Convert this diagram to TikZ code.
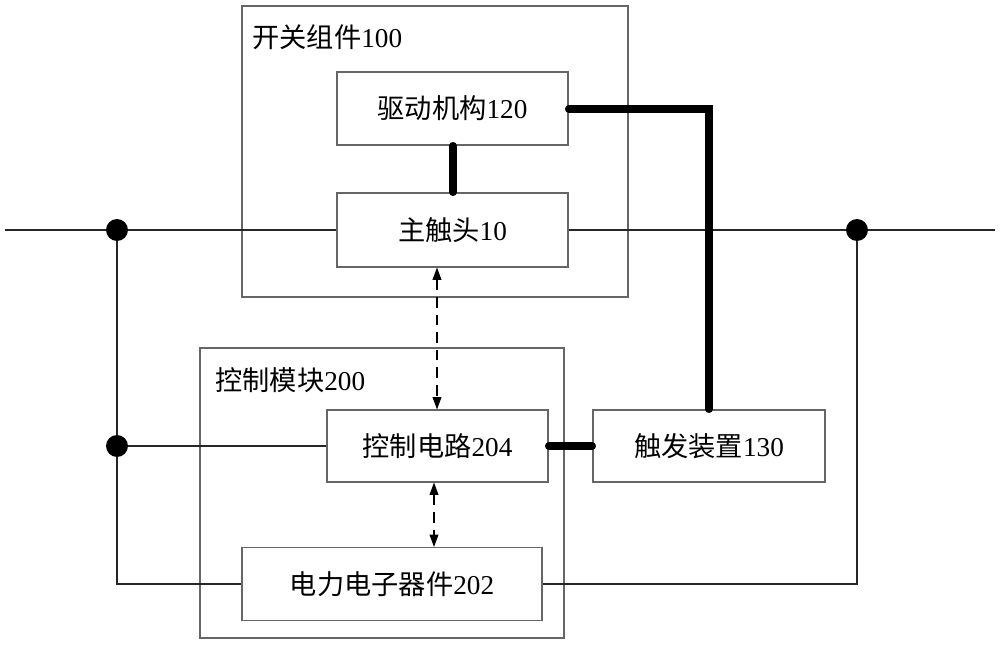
\documentclass[tikz,border=0pt]{standalone}
\usepackage{fontspec}
\setmainfont{Liberation Serif}
\newfontfamily\cjk{Noto Sans CJK SC}
\usetikzlibrary{arrows.meta}
\begin{document}
\begin{tikzpicture}[x=0.02cm,y=-0.02cm,
  blk/.style={draw=black!60,line width=0.6pt,fill=white,inner sep=0pt,font=\fontsize{15.5}{17}\selectfont},
  grp/.style={draw=black!60,line width=0.6pt},
  wire/.style={draw=black!85,line width=0.6pt},
  thick link/.style={line width=4pt,line cap=round},
  dashar/.style={line width=0.6pt,dash pattern=on 6pt off 4pt,{Triangle[width=5pt,length=7pt]}-{Triangle[width=5pt,length=7pt]}},
  dot/.style={circle,fill=black,inner sep=0pt,minimum size=12.5pt},
  lbl/.style={font=\fontsize{15.5}{17}\selectfont,anchor=west,inner sep=0pt}]
\useasboundingbox (0,0) rectangle (1000,646);
% group boxes
\draw[grp] (242,6) rectangle (628,297);
\node[lbl] (g1) at (252,37) {{\cjk 开关组件}100};
\draw[grp] (200,348) rectangle (564,638);
\node[lbl] (g2) at (215,380) {{\cjk 控制模块}200};
% main line
\coordinate (L) at (5,230);
\coordinate (R) at (995,230);
\node[blk,minimum width=231*0.02cm,minimum height=73*0.02cm] (drv) at (452.5,108.5) {{\cjk 驱动机构}120};
\node[blk,minimum width=231*0.02cm,minimum height=74*0.02cm] (mc) at (452.5,230) {{\cjk 主触头}10};
\node[blk,minimum width=221*0.02cm,minimum height=72*0.02cm] (cc) at (437.5,446) {{\cjk 控制电路}204};
\node[blk,minimum width=232*0.02cm,minimum height=72*0.02cm] (tr) at (709,446) {{\cjk 触发装置}130};
\node[blk,minimum width=300*0.02cm,minimum height=73*0.02cm] (pe) at (392,584) {{\cjk 电力电子器件}202};
\coordinate (dl) at (117,230);
\coordinate (dr) at (857,230);
\coordinate (dm) at (cc.west -| dl);
\coordinate (bl) at (pe.west -| dl);
\coordinate (br) at (pe.east -| dr);
\coordinate (tc) at (709,109);
\draw[wire] (L) -- (mc.west);
\draw[wire] (mc.east) -- (R);
\draw[wire] (dl) -- (bl) -- (pe.west);
\draw[wire] (dm) -- (cc.west);
\draw[wire] (pe.east) -- (br) -- (dr);
\node[dot] (d1) at (dl) {};
\node[dot] (d2) at (dr) {};
\node[dot] (d3) at (dm) {};
% thick mechanical links
\draw[thick link] (drv.south -| 453,0) -- (mc.north -| 453,0);
\draw[thick link] (drv.east |- 0,109) -- (tc) -- (tr.north);
\draw[thick link] (cc.east) -- (tr.west);
% arrows
\draw[dashar] (mc.south -| 437,0) -- (cc.north -| 437,0);
\draw[dashar] (cc.south -| 434,0) -- (pe.north -| 434,0);
\end{tikzpicture}
\end{document}
